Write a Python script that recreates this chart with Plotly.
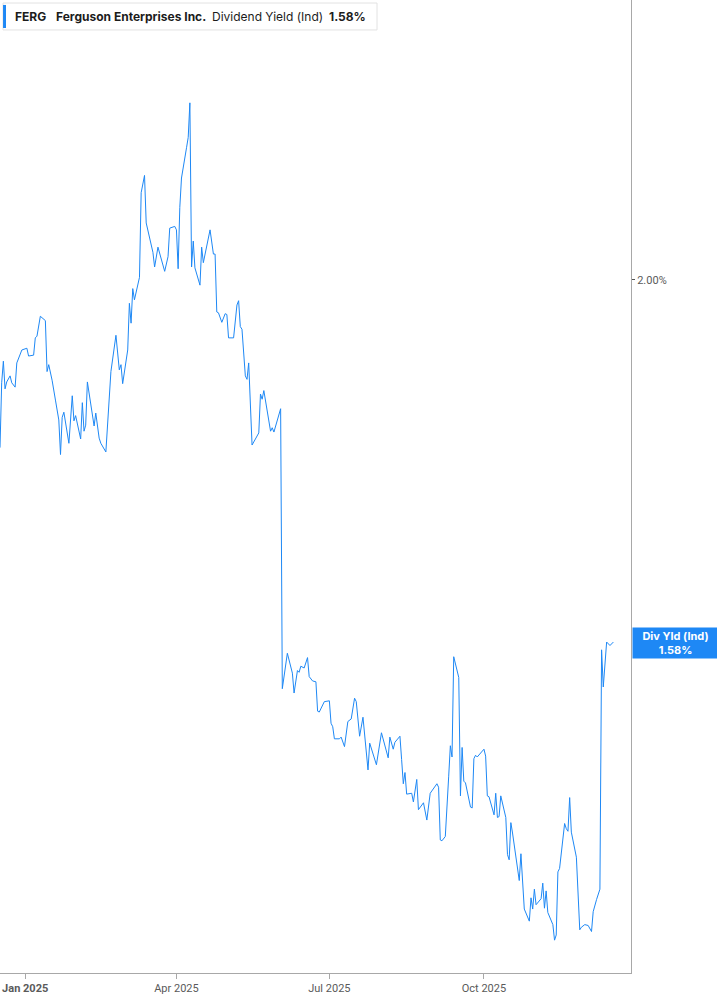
import plotly.graph_objects as go

# FERG dividend yield (indicated), %
dates = [
    "2024-12-17", "2024-12-18", "2024-12-19", "2024-12-20", "2024-12-21", "2024-12-23", "2024-12-24",
    "2024-12-26", "2024-12-27", "2024-12-28", "2024-12-30", "2025-01-02", "2025-01-03", "2025-01-06",
    "2025-01-07", "2025-01-08", "2025-01-10", "2025-01-13", "2025-01-14", "2025-01-15", "2025-01-17",
    "2025-01-19", "2025-01-21", "2025-01-22", "2025-01-23", "2025-01-24", "2025-01-27", "2025-01-29",
    "2025-01-30", "2025-01-31", "2025-02-03", "2025-02-04", "2025-02-05", "2025-02-06", "2025-02-07",
    "2025-02-11", "2025-02-12", "2025-02-14", "2025-02-15", "2025-02-18", "2025-02-21", "2025-02-24",
    "2025-02-26", "2025-02-27", "2025-02-28", "2025-03-03", "2025-03-04", "2025-03-05", "2025-03-06",
    "2025-03-07", "2025-03-10", "2025-03-11", "2025-03-13", "2025-03-14", "2025-03-18", "2025-03-19",
    "2025-03-21", "2025-03-25", "2025-03-27", "2025-03-28", "2025-03-31", "2025-04-01", "2025-04-02",
    "2025-04-03", "2025-04-04", "2025-04-07", "2025-04-08", "2025-04-09", "2025-04-10", "2025-04-11",
    "2025-04-12", "2025-04-15", "2025-04-16", "2025-04-17", "2025-04-21", "2025-04-23", "2025-04-24",
    "2025-04-25", "2025-04-26", "2025-04-28", "2025-04-30", "2025-05-01", "2025-05-02", "2025-05-05",
    "2025-05-07", "2025-05-08", "2025-05-09", "2025-05-10", "2025-05-12", "2025-05-13", "2025-05-14",
    "2025-05-16", "2025-05-20", "2025-05-21", "2025-05-22", "2025-05-23", "2025-05-27", "2025-05-28",
    "2025-05-29", "2025-06-02", "2025-06-03", "2025-06-06", "2025-06-09", "2025-06-10", "2025-06-12",
    "2025-06-13", "2025-06-14", "2025-06-16", "2025-06-18", "2025-06-19", "2025-06-21", "2025-06-23",
    "2025-06-24", "2025-06-25", "2025-06-27", "2025-06-28", "2025-07-01", "2025-07-02", "2025-07-03",
    "2025-07-04", "2025-07-07", "2025-07-08", "2025-07-10", "2025-07-12", "2025-07-14", "2025-07-16",
    "2025-07-17", "2025-07-19", "2025-07-21", "2025-07-24", "2025-07-25", "2025-07-29", "2025-08-01",
    "2025-08-05", "2025-08-06", "2025-08-08", "2025-08-09", "2025-08-12", "2025-08-13", "2025-08-14",
    "2025-08-15", "2025-08-16", "2025-08-19", "2025-08-20", "2025-08-22", "2025-08-23", "2025-08-26",
    "2025-08-28", "2025-08-30", "2025-09-03", "2025-09-04", "2025-09-05", "2025-09-06", "2025-09-08",
    "2025-09-10", "2025-09-11", "2025-09-12", "2025-09-13", "2025-09-16", "2025-09-17", "2025-09-18",
    "2025-09-19", "2025-09-20", "2025-09-23", "2025-09-24", "2025-09-25", "2025-09-26", "2025-09-27",
    "2025-10-01", "2025-10-02", "2025-10-03", "2025-10-04", "2025-10-07", "2025-10-08", "2025-10-09",
    "2025-10-10", "2025-10-11", "2025-10-14", "2025-10-15", "2025-10-16", "2025-10-17", "2025-10-18",
    "2025-10-22", "2025-10-23", "2025-10-25", "2025-10-28", "2025-10-29", "2025-10-30", "2025-10-31",
    "2025-11-01", "2025-11-04", "2025-11-05", "2025-11-06", "2025-11-07", "2025-11-08", "2025-11-11",
    "2025-11-12", "2025-11-13", "2025-11-14", "2025-11-15", "2025-11-18", "2025-11-19", "2025-11-20",
    "2025-11-21", "2025-11-22", "2025-11-25", "2025-11-27", "2025-11-28", "2025-11-30", "2025-12-02",
    "2025-12-04", "2025-12-05", "2025-12-07", "2025-12-09", "2025-12-10", "2025-12-11", "2025-12-13",
    "2025-12-15", "2025-12-17",
]

div_yield = [
    1.806, 1.881, 1.906, 1.874, 1.882, 1.889, 1.881,
    1.876, 1.904, 1.909, 1.919, 1.921, 1.912, 1.913,
    1.933, 1.935, 1.958, 1.953, 1.894, 1.902, 1.884,
    1.861, 1.838, 1.798, 1.841, 1.847, 1.811, 1.866,
    1.837, 1.843, 1.816, 1.858, 1.825, 1.832, 1.882,
    1.831, 1.846, 1.817, 1.811, 1.801, 1.894, 1.936,
    1.896, 1.902, 1.880, 1.919, 1.973, 1.950, 1.990,
    1.977, 2.003, 2.101, 2.121, 2.066, 2.032, 2.015,
    2.038, 2.010, 2.027, 2.060, 2.062, 2.058, 2.013,
    2.084, 2.118, 2.153, 2.165, 2.205, 2.015, 2.045,
    2.014, 1.994, 2.038, 2.020, 2.058, 2.030, 2.030,
    1.963, 1.962, 1.951, 1.961, 1.960, 1.933, 1.933,
    1.971, 1.976, 1.946, 1.943, 1.889, 1.885, 1.904,
    1.809, 1.823, 1.868, 1.862, 1.872, 1.825, 1.829,
    1.824, 1.851, 1.527, 1.568, 1.545, 1.522, 1.548,
    1.546, 1.553, 1.551, 1.563, 1.541, 1.536, 1.535,
    1.501, 1.500, 1.509, 1.512, 1.513, 1.487, 1.483,
    1.469, 1.469, 1.471, 1.460, 1.489, 1.492, 1.516,
    1.512, 1.472, 1.494, 1.433, 1.464, 1.439, 1.476,
    1.447, 1.471, 1.457, 1.465, 1.472, 1.445, 1.417,
    1.430, 1.405, 1.406, 1.396, 1.422, 1.387, 1.395,
    1.375, 1.406, 1.417, 1.413, 1.352, 1.351, 1.356,
    1.425, 1.461, 1.448, 1.564, 1.540, 1.403, 1.459,
    1.420, 1.418, 1.390, 1.389, 1.446, 1.450, 1.448,
    1.457, 1.449, 1.403, 1.402, 1.381, 1.406, 1.378,
    1.379, 1.403, 1.378, 1.335, 1.329, 1.372, 1.360,
    1.305, 1.336, 1.272, 1.258, 1.285, 1.272, 1.295,
    1.277, 1.284, 1.302, 1.273, 1.293, 1.268, 1.254,
    1.236, 1.242, 1.315, 1.319, 1.371, 1.365, 1.362,
    1.401, 1.361, 1.332, 1.248, 1.251, 1.254, 1.253,
    1.246, 1.269, 1.283, 1.295, 1.572, 1.529, 1.581,
    1.577, 1.581,
]

x_tick_vals = ["2025-01-01", "2025-04-01", "2025-07-01", "2025-10-01"]
x_tick_text = ["<b>Jan 2025</b>", "Apr 2025", "Jul 2025", "Oct 2025"]
y_tick_vals = [2.0]
y_tick_text = ["2.00%"]

ticker = "FERG"
company = "Ferguson Enterprises Inc."
metric = "Dividend Yield (Ind)"
last_label = "1.58%"
last_value = 1.58

blue = "#1e88f5"
axis_grey = "#a8a8a8"

fig = go.Figure()
fig.add_trace(go.Scatter(
    x=dates, y=div_yield, mode="lines",
    line=dict(color=blue, width=1), hoverinfo="skip", showlegend=False,
))

fig.update_layout(
    width=717, height=1005,
    margin=dict(l=0, r=86, t=0, b=32),
    paper_bgcolor="white", plot_bgcolor="white",
    font=dict(family="Inter, Roboto, sans-serif", color="#555"),
    showlegend=False,
)

fig.update_xaxes(
    range=["2024-12-17", "2025-12-27 12:00"],
    tickvals=x_tick_vals, ticktext=x_tick_text,
    ticks="outside", ticklen=5, tickcolor=axis_grey,
    tickfont=dict(size=11, color="#5a5a5a", family="Roboto, sans-serif"),
    showline=True, linecolor=axis_grey, linewidth=1,
    showgrid=False, zeroline=False,
)
fig.update_yaxes(
    side="right", range=[1.198, 2.324],
    tickvals=y_tick_vals, ticktext=y_tick_text,
    ticks="outside", ticklen=3, tickcolor="#555",
    tickfont=dict(size=11, color="#5a5a5a", family="Roboto, sans-serif"),
    showline=True, linecolor=axis_grey, linewidth=1,
    showgrid=False, zeroline=False,
)

# header box with blue accent bar
fig.add_shape(type="rect", xref="paper", yref="paper",
              x0=0.0048, x1=0.5975, y0=0.9692, y1=0.9969,
              line=dict(color="#e2e2e2", width=1), fillcolor="white")
fig.add_shape(type="rect", xref="paper", yref="paper",
              x0=0.0048, x1=0.0095, y0=0.9712, y1=0.9949,
              line=dict(width=0), fillcolor=blue)

header = [
    (f"<b>{ticker}</b>", 13),
    (f"<b>{company}</b>", 54),
    (metric, 210),
    (f"<b>{last_label}</b>", 327),
]
for txt, px in header:
    fig.add_annotation(
        text=txt, xref="paper", yref="paper", x=px / 631, y=0.9830,
        xanchor="left", yanchor="middle", showarrow=False,
        font=dict(family="Inter, sans-serif", size=12, color="#1c1c1c"),
    )

# last value label on the right axis
fig.add_annotation(
    text=f"<b>Div Yld (Ind)</b><br><b>{last_label}</b>",
    xref="paper", yref="y", x=1.0, y=last_value,
    xanchor="left", yanchor="middle", xshift=1, showarrow=False,
    bgcolor=blue, width=85, height=30, borderpad=0,
    font=dict(family="Inter, sans-serif", size=11, color="white"),
)

fig.write_html("out.html", config={"displayModeBar": False},
               post_script="document.body.style.margin='0';")
